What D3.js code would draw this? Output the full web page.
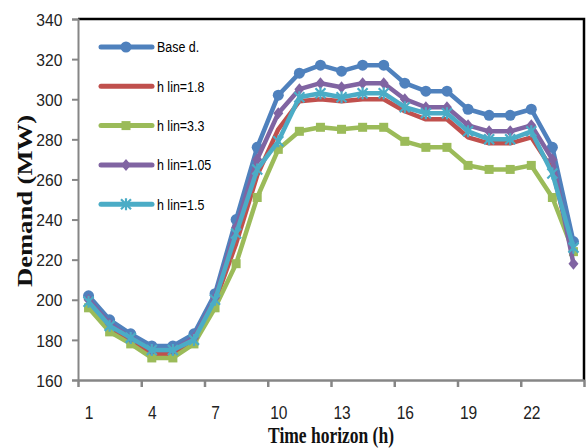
<!DOCTYPE html>
<html>
<head>
<meta charset="utf-8">
<script src="https://cdn.jsdelivr.net/npm/d3@7"></script>
<style>
  body { margin: 0; background: #fff; }
  .tick text { font-family: "Liberation Sans", Arial, sans-serif; fill: #222; }
  .legend text { font-family: "Liberation Sans", Arial, sans-serif; font-size: 15px; fill: #000; }
  .axisTitle { font-family: "Liberation Serif", "Times New Roman", serif; font-weight: bold; fill: #111; }
</style>
</head>
<body>
<div class="chart"></div>
<script>
// hours 1..24
var hours = [1, 2, 3, 4, 5, 6, 7, 8, 9, 10, 11, 12, 13, 14, 15, 16, 17, 18, 19, 20, 21, 22, 23, 24];
var xLabels = [1, 4, 7, 10, 13, 16, 19, 22];
var yTicks = [160, 180, 200, 220, 240, 260, 280, 300, 320, 340];

var baseD  = [202, 190, 183, 177, 177, 183, 203, 240, 276, 302, 313, 317, 314, 317, 317, 308, 304, 304, 295, 292, 292, 295, 276, 229];
var hLin18 = [198, 186, 180, 173, 173, 180, 199, 228, 262, 285, 299, 300, 299, 300, 300, 294, 290, 290, 281, 278, 278, 281, 265, 222];
var hLin33 = [196, 184, 178, 171, 171, 178, 196, 218, 251, 275, 284, 286, 285, 286, 286, 279, 276, 276, 267, 265, 265, 267, 251, 224];
var hLin105 = [200, 188, 181, 175, 175, 181, 201, 236, 270, 293, 305, 308, 306, 308, 308, 300, 296, 296, 287, 284, 284, 287, 270, 218];
var hLin15 = [199, 187, 181, 175, 175, 180, 200, 233, 265, 279, 301, 303, 301, 303, 303, 296, 293, 293, 284, 280, 280, 284, 263, 226];

var seriesNames = ["Base d.", "h lin=1.8", "h lin=3.3", "h lin=1.05", "h lin=1.5"];
var seriesValues = [baseD, hLin18, hLin33, hLin105, hLin15];
var seriesColors = ["#4F81BD", "#C0504D", "#9BBB59", "#8064A2", "#4BACC6"];
var seriesMarkers = ["circle", "none", "square", "diamond", "star"];

var svgWidth = 586, svgHeight = 448;
var margin = { top: 19, right: 2, bottom: 68, left: 78 };
var width = svgWidth - margin.left - margin.right;
var height = svgHeight - margin.top - margin.bottom;

var svg = d3.select(".chart").append("svg")
  .attr("width", svgWidth)
  .attr("height", svgHeight);

var chartGroup = svg.append("g")
  .attr("transform", `translate(${margin.left}, ${margin.top})`);

var xScale = d3.scaleLinear().domain([0.5, 24.5]).range([0, width]);
var yScale = d3.scaleLinear().domain([160, 340]).range([height, 0]);

// top and right border (black)
chartGroup.append("path")
  .attr("d", `M0,0H${width}V${height}`)
  .attr("fill", "none")
  .attr("stroke", "#000")
  .attr("stroke-width", 2.5);

// left axis
var leftAxis = d3.axisLeft(yScale).tickValues(yTicks).tickSize(6);
var yAx = chartGroup.append("g").call(leftAxis);
yAx.select(".domain").attr("stroke", "#868686").attr("stroke-width", 2);
yAx.selectAll(".tick line").attr("stroke", "#868686").attr("stroke-width", 2);
yAx.selectAll(".tick text")
  .style("font-size", "17px")
  .attr("x", -17)
  .attr("dy", "0.36em")
  .attr("transform", "scale(0.92, 1)");

// bottom axis: ticks on category boundaries
var bounds = d3.range(0, 25, 3).map(d => d + 0.5);
var bottomAxis = d3.axisBottom(xScale).tickValues(bounds).tickSize(7).tickFormat("").tickSizeOuter(0);
var xAx = chartGroup.append("g").attr("transform", `translate(0, ${height})`).call(bottomAxis);
xAx.select(".domain").attr("stroke", "#868686").attr("stroke-width", 2.5);
xAx.selectAll(".tick line").attr("stroke", "#868686").attr("stroke-width", 2.5);

// bottom labels on category centres
var labelAxis = d3.axisBottom(xScale).tickValues(xLabels).tickSize(0).tickPadding(39);
var xLab = chartGroup.append("g").attr("transform", `translate(0, ${height})`).call(labelAxis);
xLab.select(".domain").remove();
xLab.selectAll(".tick text")
  .style("font-size", "19px")
  .attr("dy", "0")
  .attr("transform", "scale(0.82, 1)");

// lines
var line = d3.line().x((d, i) => xScale(hours[i])).y(d => yScale(d));

function drawMarker(g, type, color) {
  if (type == "circle") {
    g.append("circle").attr("r", 5.5).attr("fill", color);
  } else if (type == "square") {
    g.append("rect").attr("x", -4.5).attr("y", -4.5).attr("width", 9).attr("height", 9).attr("fill", color);
  } else if (type == "diamond") {
    g.append("path").attr("d", "M0,-6L5,0L0,6L-5,0Z").attr("fill", color);
  } else if (type == "star") {
    g.append("path").attr("d", "M-5,-5L5,5M-5,5L5,-5M0,-6V6")
      .attr("stroke", color).attr("stroke-width", 2.2).attr("fill", "none");
  }
}

seriesValues.forEach(function(vals, s) {
  chartGroup.append("path")
    .datum(vals)
    .attr("d", line)
    .attr("fill", "none")
    .attr("stroke", seriesColors[s])
    .attr("stroke-width", 4.5)
    .attr("stroke-linejoin", "round");

  if (seriesMarkers[s] != "none") {
    chartGroup.selectAll(".m" + s)
      .data(vals)
      .enter()
      .append("g")
      .attr("class", "m" + s)
      .attr("transform", (d, i) => `translate(${xScale(hours[i])}, ${yScale(d)})`)
      .each(function() { drawMarker(d3.select(this), seriesMarkers[s], seriesColors[s]); });
  }
});

// legend
var legend = svg.append("g").attr("class", "legend");
seriesNames.forEach(function(name, s) {
  var ly = 47 + s * 39.3;
  legend.append("line")
    .attr("x1", 101).attr("x2", 152)
    .attr("y1", ly).attr("y2", ly)
    .attr("stroke", seriesColors[s])
    .attr("stroke-width", 5)
    .attr("stroke-linecap", "round");
  if (seriesMarkers[s] != "none") {
    drawMarker(legend.append("g").attr("transform", `translate(126, ${ly})`), seriesMarkers[s], seriesColors[s]);
  }
  legend.append("text")
    .attr("transform", `translate(157, ${ly}) scale(0.83, 1)`)
    .attr("dy", "0.36em")
    .text(name);
});

// axis titles
svg.append("text")
  .attr("class", "axisTitle")
  .attr("transform", "translate(331, 443) scale(1, 1.28)")
  .attr("text-anchor", "middle")
  .style("font-size", "17.5px")
  .text("Time horizon (h)");

svg.append("text")
  .attr("class", "axisTitle")
  .attr("transform", "translate(32, 201) rotate(-90) scale(1.33, 1)")
  .attr("text-anchor", "middle")
  .style("font-size", "20px")
  .text("Demand (MW)");
</script>
</body>
</html>
